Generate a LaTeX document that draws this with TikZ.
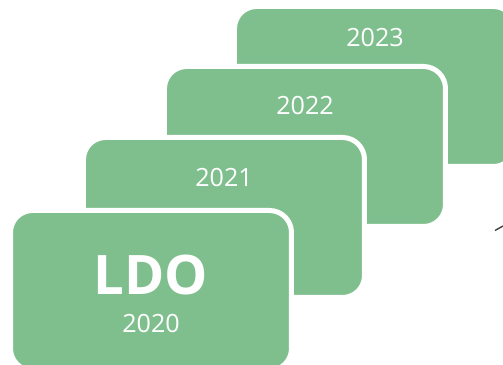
\documentclass[tikz,border=0pt]{standalone}
\usepackage{fontspec}
\setmainfont{Open Sans}
\usetikzlibrary{positioning}

\definecolor{cardgreen}{RGB}{127,191,142}

\begin{document}
\begin{tikzpicture}[
    card/.style = {rectangle, rounded corners=0.44cm, fill=cardgreen, draw=white,
                   line width=0.1cm, minimum width=5.62cm, minimum height=3.2cm},
    yeartext/.style = {text=white, inner sep=0, font=\fontsize{14.3}{16}\selectfont},
    bigtext/.style = {text=white, inner sep=0, font=\fontsize{31}{34}\selectfont\bfseries}
]
    \useasboundingbox (0,0) rectangle (10.06,7.3);

    \node[card] (c2023) at (7.5,5.57) {};
    \node[card] (c2022) at (6.1,4.37) {};
    \node[card] (c2021) at (4.48,2.95) {};
    \node[card] (c2020) at (3.02,1.49) {};

    \node[yeartext, below=0.47cm of c2023.north] (t2023) {2023};
    \node[yeartext, below=0.63cm of c2022.north] (t2022) {2022};
    \node[yeartext, below=0.65cm of c2021.north] (t2021) {2021};
    \node[bigtext, above=0.31cm of c2020.center, anchor=center] (ldo) {LDO};
    \node[yeartext, below=0.66cm of c2020.center, anchor=center] (t2020) {2020};

    % stray tip at the right edge
    \coordinate (m1) at (10.06,2.78);
    \coordinate (m2) at (9.9,2.69);
    \draw[darkgray, line width=0.8pt] (m1) -- (m2);
\end{tikzpicture}
\end{document}
